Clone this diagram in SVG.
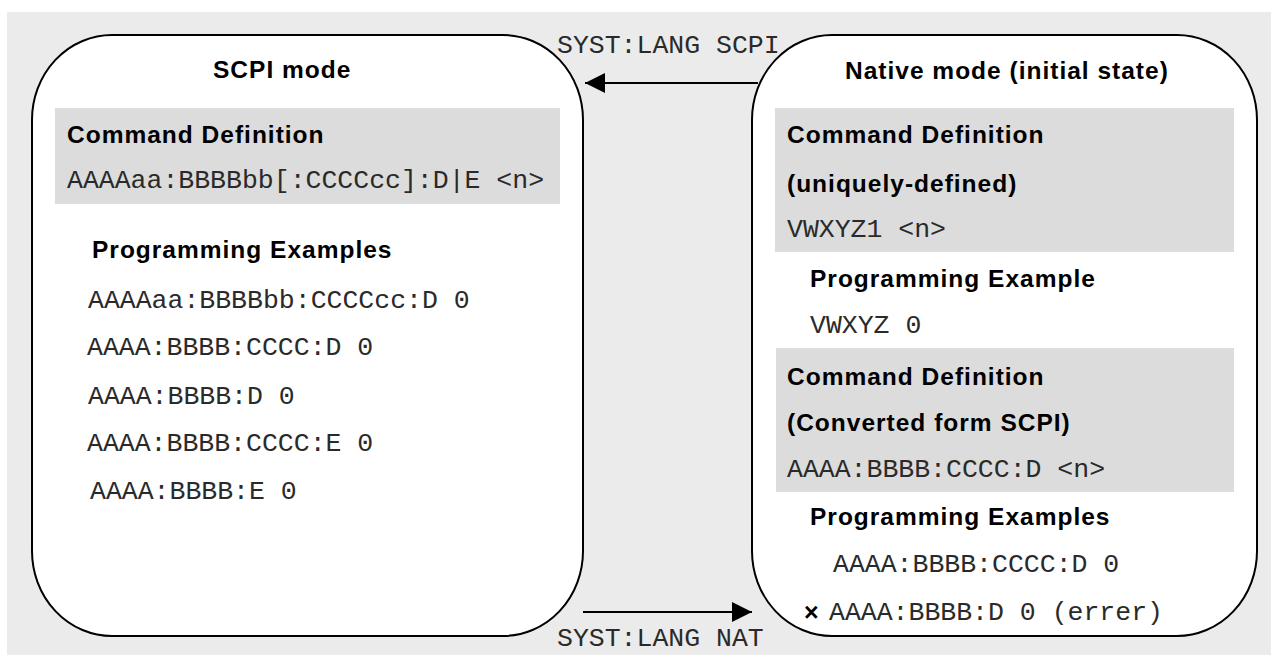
<svg xmlns="http://www.w3.org/2000/svg" width="1271" height="655" viewBox="0 0 1271 655">
<defs>
<style>
.bg{fill:#ebebeb}
.box{fill:#ffffff;stroke:#000000;stroke-width:2}
.def{fill:#dcdcdc}
.h{font-family:"Liberation Sans",Arial,sans-serif;font-weight:bold;font-size:24.5px;letter-spacing:1px;fill:#000}
.m{font-family:"Liberation Mono","Courier New",monospace;font-size:26.5px;fill:#2a2a2a}
.conn{stroke:#000;stroke-width:2;fill:none}
</style>
<marker id="ah" markerUnits="userSpaceOnUse" markerWidth="22" markerHeight="22" refX="20" refY="10" orient="auto">
<path d="M0,0 L20,10 L0,20 Z" fill="#000"/>
</marker>
</defs>
<rect class="bg" x="7" y="12" width="1264" height="643"/>
<g id="scpi-mode">
<rect class="box" x="32" y="35" width="551" height="601" rx="80" ry="85"/>
<text class="h" x="213" y="78">SCPI mode</text>
<rect class="def" x="55" y="108" width="505" height="96"/>
<text class="h" x="67" y="143">Command Definition</text>
<text class="m" x="67" y="188">AAAAaa:BBBBbb[:CCCCcc]:D|E &lt;n&gt;</text>
<text class="h" x="92" y="258">Programming Examples</text>
<text class="m" x="88" y="308">AAAAaa:BBBBbb:CCCCcc:D 0</text>
<text class="m" x="87" y="355">AAAA:BBBB:CCCC:D 0</text>
<text class="m" x="88" y="404">AAAA:BBBB:D 0</text>
<text class="m" x="87" y="451">AAAA:BBBB:CCCC:E 0</text>
<text class="m" x="90" y="499">AAAA:BBBB:E 0</text>
</g>
<g id="native-mode">
<rect class="box" x="752" y="35" width="505" height="601" rx="80" ry="85"/>
<text class="h" x="845" y="79">Native mode (initial state)</text>
<rect class="def" x="775" y="108" width="459" height="144"/>
<text class="h" x="787" y="143">Command Definition</text>
<text class="h" x="787" y="192">(uniquely-defined)</text>
<text class="m" x="787" y="237">VWXYZ1 &lt;n&gt;</text>
<text class="h" x="810" y="287">Programming Example</text>
<text class="m" x="810" y="333">VWXYZ 0</text>
<rect class="def" x="776" y="348" width="458" height="144"/>
<text class="h" x="787" y="385">Command Definition</text>
<text class="h" x="787" y="431">(Converted form SCPI)</text>
<text class="m" x="787" y="477">AAAA:BBBB:CCCC:D &lt;n&gt;</text>
<text class="h" x="810" y="525">Programming Examples</text>
<text class="m" x="833" y="572">AAAA:BBBB:CCCC:D 0</text>
<text class="h" x="804" y="621" style="font-size:25px;letter-spacing:0">×</text>
<text class="m" x="829" y="620">AAAA:BBBB:D 0 (errer)</text>
</g>
<g id="connectors">
<line class="conn" x1="758" y1="83" x2="585" y2="83" marker-end="url(#ah)"/>
<text class="m" x="557" y="53">SYST:LANG SCPI</text>
<line class="conn" x1="583" y1="612" x2="752" y2="612" marker-end="url(#ah)"/>
<text class="m" x="557" y="646">SYST:LANG NAT</text>
</g>
</svg>
